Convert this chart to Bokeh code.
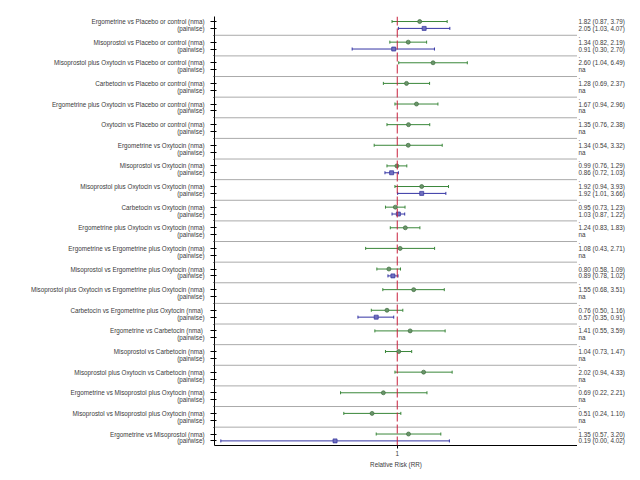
import math
from bokeh.plotting import figure
from bokeh.models import Range1d, FixedTicker, Span, ColumnDataSource
from bokeh.layouts import row
from bokeh.core.properties import value
from bokeh.embed import file_html
from bokeh.resources import INLINE

nan = float("nan")

comparisons = [
    "Ergometrine vs Placebo or control",
    "Misoprostol vs Placebo or control",
    "Misoprostol plus Oxytocin vs Placebo or control",
    "Carbetocin vs Placebo or control",
    "Ergometrine plus Oxytocin vs Placebo or control",
    "Oxytocin vs Placebo or control",
    "Ergometrine vs Oxytocin",
    "Misoprostol vs Oxytocin",
    "Misoprostol plus Oxytocin vs Oxytocin",
    "Carbetocin vs Oxytocin",
    "Ergometrine plus Oxytocin vs Oxytocin",
    "Ergometrine vs Ergometrine plus Oxytocin",
    "Misoprostol vs Ergometrine plus Oxytocin",
    "Misoprostol plus Oxytocin vs Ergometrine plus Oxytocin",
    "Carbetocin  vs Ergometrine plus Oxytocin",
    "Ergometrine  vs Carbetocin",
    "Misoprostol vs Carbetocin",
    "Misoprostol plus Oxytocin vs Carbetocin",
    "Ergometrine vs Misoprostol plus Oxytocin",
    "Misoprostol vs Misoprostol plus Oxytocin",
    "Ergometrine vs Misoprostol",
]
nma_rr = [1.82, 1.34, 2.60, 1.28, 1.67, 1.35, 1.34, 0.99, 1.92, 0.95, 1.24,
          1.08, 0.80, 1.55, 0.76, 1.41, 1.04, 2.02, 0.69, 0.51, 1.35]
nma_lo = [0.87, 0.82, 1.04, 0.69, 0.94, 0.76, 0.54, 0.76, 0.94, 0.73, 0.83,
          0.43, 0.58, 0.68, 0.50, 0.55, 0.73, 0.94, 0.22, 0.24, 0.57]
nma_hi = [3.79, 2.19, 6.49, 2.37, 2.96, 2.38, 3.32, 1.29, 3.93, 1.23, 1.83,
          2.71, 1.09, 3.51, 1.16, 3.59, 1.47, 4.33, 2.21, 1.10, 3.20]
pw_rr = [2.05, 0.91, nan, nan, nan, nan, nan, 0.86, 1.92, 1.03, nan,
         nan, 0.89, nan, 0.57, nan, nan, nan, nan, nan, 0.19]
pw_lo = [1.03, 0.30, nan, nan, nan, nan, nan, 0.72, 1.01, 0.87, nan,
         nan, 0.78, nan, 0.35, nan, nan, nan, nan, nan, 0.009]
pw_hi = [4.07, 2.70, nan, nan, nan, nan, nan, 1.03, 3.66, 1.22, nan,
         nan, 1.02, nan, 0.91, nan, nan, nan, nan, nan, 4.02]

FONT = "Liberation Sans"
FS = "6.3px"
TXT = "#3a3a3a"
GREEN = "#3a873a"
BLUE = "#3434a4"


def fmt(v):
    return f"{int(v * 100 + 1e-6) / 100:.2f}"


n = len(comparisons)
ny = [3 * g + 1 for g in range(n)]
py = [3 * g + 2 for g in range(n)]
hy = [3 * g for g in range(n)]

overrides = {}
for g in range(n):
    overrides[ny[g]] = f"{comparisons[g]} (nma)"
    overrides[py[g]] = "(pairwise)"

y_range = Range1d(62.67, 0.27)

p = figure(x_axis_type="log", x_range=Range1d(0.0076, 123), y_range=y_range,
           frame_width=363, frame_height=429, min_border_left=214,
           min_border_right=0, min_border_top=16, min_border_bottom=10,
           toolbar_location=None, output_backend="svg",
           background_fill_color="white", border_fill_color="white")
p.outline_line_color = None
p.xgrid.visible = False
p.ygrid.visible = False

# separators
for g in range(1, n):
    p.add_layout(Span(location=hy[g], dimension="width", line_color="#aaaaaa", line_width=1))

p.add_layout(Span(location=1, dimension="height", line_color="#c8203c",
                  line_width=1, line_dash="9 3"))

# nma
ns = ColumnDataSource(dict(y=ny, rr=nma_rr, lo=nma_lo, hi=nma_hi,
                           ya=[v - 0.22 for v in ny], yb=[v + 0.22 for v in ny]))
p.segment(x0="lo", x1="hi", y0="y", y1="y", source=ns, line_color=GREEN, line_width=1)
p.segment(x0="lo", x1="lo", y0="ya", y1="yb", source=ns, line_color=GREEN, line_width=1)
p.segment(x0="hi", x1="hi", y0="ya", y1="yb", source=ns, line_color=GREEN, line_width=1)
p.scatter(x="rr", y="y", source=ns, marker="circle", size=4,
          fill_color="#6a956a", line_color="#3f6f3f", line_width=0.7)

# pairwise
idx = [g for g in range(n) if not math.isnan(pw_rr[g])]
ps = ColumnDataSource(dict(y=[py[g] for g in idx], rr=[pw_rr[g] for g in idx],
                           lo=[pw_lo[g] for g in idx], hi=[pw_hi[g] for g in idx],
                           ya=[py[g] - 0.22 for g in idx], yb=[py[g] + 0.22 for g in idx]))
p.segment(x0="lo", x1="hi", y0="y", y1="y", source=ps, line_color=BLUE, line_width=1)
p.segment(x0="lo", x1="lo", y0="ya", y1="yb", source=ps, line_color=BLUE, line_width=1)
p.segment(x0="hi", x1="hi", y0="ya", y1="yb", source=ps, line_color=BLUE, line_width=1)
p.scatter(x="rr", y="y", source=ps, marker="square", size=4,
          fill_color="#7070c0", line_color="#30309a", line_width=0.7)

# axes
xa = p.xaxis[0]
xa.ticker = FixedTicker(ticks=[1], minor_ticks=[])
xa.major_label_overrides = {1: "1"}
xa.axis_label = "Relative Risk (RR)"
xa.axis_label_text_font = FONT
xa.axis_label_text_font_size = FS
xa.axis_label_text_font_style = "normal"
xa.axis_label_text_color = TXT
xa.axis_label_standoff = 2
xa.major_label_text_font = FONT
xa.major_label_text_font_size = FS
xa.major_label_text_color = TXT
xa.major_label_standoff = 2
xa.major_tick_in = 0
xa.major_tick_out = 3
xa.minor_tick_out = 0
xa.minor_tick_in = 0
xa.axis_line_color = "black"

ya = p.yaxis[0]
ya.ticker = FixedTicker(ticks=sorted(ny + py), minor_ticks=hy)
ya.major_label_overrides = overrides
ya.major_label_text_font = FONT
ya.major_label_text_font_size = FS
ya.major_label_text_color = TXT
ya.major_label_standoff = 6
ya.major_tick_in = 2
ya.major_tick_out = 4
ya.minor_tick_in = 0
ya.minor_tick_out = 1
ya.axis_line_color = "black"

# right text column
t = figure(x_range=Range1d(0, 1), y_range=y_range, frame_width=55, frame_height=429,
           min_border_left=0, min_border_right=0, min_border_top=16, min_border_bottom=0,
           toolbar_location=None, output_backend="svg",
           x_axis_location=None, y_axis_location=None)
t.outline_line_color = None
t.xgrid.visible = False
t.ygrid.visible = False

ty, tt = [], []
for g in range(n):
    if g > 0:
        ty.append(hy[g]); tt.append(".")
    ty.append(ny[g]); tt.append(f"{fmt(nma_rr[g])} ({fmt(nma_lo[g])}, {fmt(nma_hi[g])})")
    ty.append(py[g])
    if math.isnan(pw_rr[g]):
        tt.append("na")
    else:
        tt.append(f"{fmt(pw_rr[g])} ({fmt(pw_lo[g])}, {fmt(pw_hi[g])})")
t.text(x=[0.02] * len(ty), y=ty, text=tt, text_font=value(FONT), text_font_size=FS,
       text_color=TXT, text_baseline="middle", text_align="left")

layout = row(p, t)
open("out.html", "w").write(file_html(layout, INLINE))
